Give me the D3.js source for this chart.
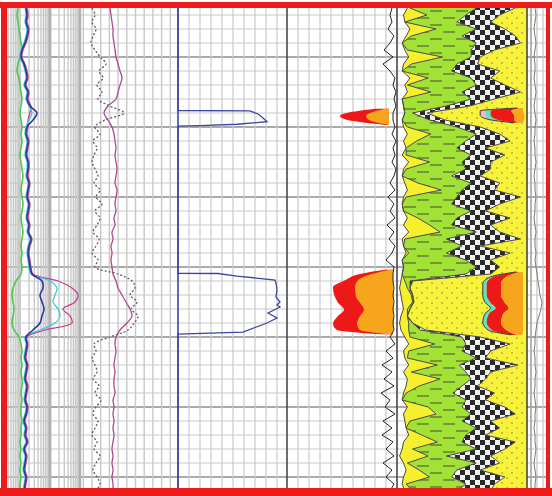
<!DOCTYPE html>
<html><head><meta charset="utf-8">
<script src="https://cdn.jsdelivr.net/npm/d3@7"></script>
<style>html,body{margin:0;padding:0;background:#fff;}svg{display:block;}</style>
</head><body>
<svg id="log" width="552" height="496"></svg>
<script>
// ---- depth sampling (m) ----
const depthTop = 2403, depthBase = 2403 + 480 / 7;
const depths = d3.range(2403, 2473); // one sample per metre

// ---- track 1 curves ----
const curveGreen = [11,10,11,12,13,14,15,13,11,10, 12,13,14,15,14,13,14,15,14,15, 14,13,14,15,16,15,14,15,16,15, 14,15,16,15,14,15,14,15,14,9, 6,5,6,7,6,5,7,12,14,15, 14,15,14,15,15,14,15,14,14,15, 14,14,13,14,13,14,13,14,13,13];
const curveDeep = [19,20,19,21,20,18,15,14,17,19, 20,18,21,20,23,30,26,20,19,21, 20,19,21,21,20,22,21,20,22,21, 20,22,21,24,22,21,22,23,25,35, 36,33,35,37,35,33,26,19,20,19, 18,20,19,18,20,19,18,20,19,17, 19,18,20,17,19,18,17,19,18,17];
const curveMedium = [18,19,18,20,19,17,14,13,16,18, 19,17,20,19,22,25,22,19,18,20, 19,18,20,20,19,21,20,19,21,20, 19,21,20,23,21,20,21,22,24,43, 50,48,46,51,53,48,33,18,19,18, 17,19,18,17,19,18,17,19,18,16, 18,17,19,16,18,17,16,18,17,16];
const curveShallow = [20,21,20,22,21,19,16,15,18,20, 21,19,22,21,24,23,21,21,20,22, 21,20,22,22,21,23,22,21,23,22, 21,23,22,25,23,22,23,24,26,51, 65,71,68,56,63,65,38,20,21,20, 19,21,20,19,21,20,19,21,20,18, 20,19,21,18,20,19,18,20,19,18];
const curveDotted = [85,88,85,89,86,84,88,93,99,92, 96,90,95,91,103,117,98,88,93,86, 90,87,85,88,91,87,93,89,95,88, 93,90,86,92,89,85,91,88,111,125, 128,123,130,124,131,127,121,103,87,89, 85,88,90,86,92,88,94,89,86,91, 88,85,90,87,93,89,86,90,93,89];
const curveSonic = [103,104,105,106,106,107,108,109,111,113, 115,113,111,109,101,97,101,105,107,108, 109,108,109,110,109,108,110,109,108,109, 107,108,105,106,104,105,104,105,106,109, 111,115,119,123,125,120,113,109,108,109, 108,107,108,107,107,108,106,107,106,107, 106,107,106,105,106,105,106,105,106,106];

// ---- track 2 step curve ----
const caliDepth = [2403, 2417.64, 2417.69, 2418.14, 2418.71, 2419.24, 2419.61, 2419.81, 2419.86, 2440.89, 2440.93, 2441.29, 2441.86, 2442.29, 2443.29, 2444.29, 2445.0, 2445.43, 2445.71, 2446.57, 2447.29, 2448.0, 2449.29, 2449.6, 2472];
const caliValue = [0, 0, 72, 80, 85, 89, 59, 22, 0, 0, 40, 59, 97, 98, 99, 98, 102, 99, 102, 90, 99, 89, 65, 0, 0];

// ---- track 3: separation fill and black curve ----
const sepDepth = [2417.4, 2417.9, 2418.4, 2418.9, 2419.3, 2419.7, null, 2440.4, 2441.0, 2441.9, 2442.9, 2444.3, 2445.1, 2446.1, 2447.0, 2448.1, 2449.0, 2449.6];
const sepOuter = [88, 63, 53, 58, 73, 98, null, 98, 73, 58, 46, 48, 51, 57, 51, 46, 50, 93];
const sepInner = [98, 85, 79, 81, 88, 101, null, 103, 85, 71, 68, 69, 73, 77, 73, 70, 73, 101];
const sepBase = [102, 102, 102, 102, 102, 102, null, 106, 106, 106, 106, 106, 106, 106, 106, 106, 106, 106];
const curveBlack = [105,103,105,101,107,103,97,106,96,103, 108,106,109,107,109,106,106,108,105,109, 106,108,105,109,107,103,108,101,107,103, 108,100,107,102,108,105,99,107,106,106, 107,106,107,106,107,106,107,103,108,99, 106,95,105,97,107,94,103,98,108,96, 105,95,106,99,107,96,105,99,107,103];

// ---- track 4: cumulative lithology edges (% of track) ----
const edgeVoid = [8,5,6,10,7,4,6,9,5,4, 10,6,8,4,5,6,4,5,8,5, 7,4,9,5,4,6,8,5,4,5, 8,5,9,4,5,7,4,5,4,3, 2,3,4,5,3,2,3,6,9,5, 6,9,5,8,7,5,4,8,5,6, 7,9,5,4,2,5,7,5,4,6];
const edgeSilt = [10,23,6,30,11,4,8,35,11,4, 24,8,26,4,5,6,4,8,26,15, 7,7,25,7,4,16,34,7,4,5, 16,25,33,6,5,9,4,5,4,6, 8,11,12,8,8,9,9,10,29,9, 8,31,11,33,17,7,4,24,30,10, 7,19,31,12,24,8,17,25,7,12];
const edgeShale = [61,53,46,61,50,61,57,57,46,42, 57,61,50,57,38,12,25,46,61,53, 46,57,50,53,42,57,50,46,42,57, 46,42,61,38,50,38,53,61,53,10, 10,12,13,10,8,12,18,50,53,50, 61,48,53,57,50,43,53,50,57,50, 61,53,50,61,38,61,46,42,53,46];
const edgeCoal = [91,79,72,83,91,95,75,64,62,79, 72,83,95,75,56,23,37,64,79,87, 68,83,72,72,64,79,75,95,79,68, 87,72,79,95,64,87,72,79,72,12, 10,12,13,10,8,12,22,64,87,72, 68,93,72,68,62,75,68,83,91,72, 79,68,91,83,72,79,64,83,75,72];

// ---- track 4: fluid fill zones (% of track) ----
const hcDepth = [2417.3, 2417.7, 2418.3, 2418.9, 2419.4, null, 2440.7, 2441.4, 2442.4, 2444.0, 2445.1, 2445.9, 2446.6, 2447.9, 2449.0, 2449.7];
const hcStart = [92, 64, 64, 70, 90, null, 92, 72, 66, 66, 68, 72, 68, 66, 70, 88];
const hcPink = [92, 68, 68, 72, 90, null, 92, 72, 66, 66, 68, 72, 68, 66, 70, 88];
const hcCyan = [92, 72, 72, 76, 91, null, 92, 74, 69, 69, 72, 76, 71, 69, 73, 88];
const hcRed = [95, 88, 90, 90, 93, null, 94, 84, 80, 80, 83, 86, 82, 80, 84, 92];
const hcOrange = [97, 97, 98, 98, 96, null, 96, 97, 97, 97, 97, 97, 97, 97, 97, 96];

// ---- track 5 curve ----
const curveTension = [7,8,7,6,7,8,7,6,7,7, 6,7,8,7,6,7,8,7,7,6, 7,7,8,7,6,7,7,8,7,7, 6,7,8,7,7,8,7,8,9,10, 11,12,14,13,11,9,8,7,7,6, 7,7,8,7,7,6,7,8,7,7, 6,7,7,8,7,6,7,8,7,7];

// ---- scales ----
const y = d3.scaleLinear().domain([depthTop, depthBase]).range([8, 488]);
const x1 = d3.scaleLinear().domain([0, 171]).range([7, 178]);
const x2 = d3.scaleLinear().domain([0, 110]).range([178, 288]);
const x3 = d3.scaleLinear().domain([0, 110]).range([287, 397]);
const x4 = d3.scaleLinear().domain([0, 100]).range([397, 527]);
const x5 = d3.scaleLinear().domain([0, 18]).range([528, 546]);

const svg = d3.select('#log');
const defs = svg.append('defs');

// lithology patterns
const chk = defs.append('pattern').attr('id', 'chk').attr('width', 10).attr('height', 10).attr('patternUnits', 'userSpaceOnUse');
chk.append('rect').attr('width', 10).attr('height', 10).attr('fill', '#f2f2f2');
chk.append('rect').attr('width', 5).attr('height', 5).attr('fill', '#2a2a2a');
chk.append('rect').attr('x', 5).attr('y', 5).attr('width', 5).attr('height', 5).attr('fill', '#2a2a2a');

const sand = defs.append('pattern').attr('id', 'sand').attr('width', 10).attr('height', 10).attr('patternUnits', 'userSpaceOnUse');
sand.append('rect').attr('width', 10).attr('height', 10).attr('fill', '#f8f23a');
sand.append('circle').attr('cx', 2).attr('cy', 3).attr('r', 0.7).attr('fill', '#6b6b40');
sand.append('circle').attr('cx', 7).attr('cy', 8).attr('r', 0.7).attr('fill', '#6b6b40');

const shale = defs.append('pattern').attr('id', 'shale').attr('width', 26).attr('height', 14).attr('patternUnits', 'userSpaceOnUse');
shale.append('rect').attr('width', 26).attr('height', 14).attr('fill', '#a2e234');
shale.append('line').attr('x1', 1).attr('x2', 13).attr('y1', 4).attr('y2', 4).attr('stroke', '#4d5a3a').attr('stroke-width', 1.1);
shale.append('line').attr('x1', 14).attr('x2', 26).attr('y1', 11).attr('y2', 11).attr('stroke', '#4d5a3a').attr('stroke-width', 1.1);

defs.append('clipPath').attr('id', 'plot').append('rect')
  .attr('x', 7).attr('y', 8).attr('width', 539).attr('height', 480);

const g = svg.append('g').attr('clip-path', 'url(#plot)');

// ---- grid ----
const hTicks = d3.range(2404, 2472, 2);
g.append('g').selectAll('line').data(hTicks).join('line')
  .attr('x1', 7).attr('x2', 546)
  .attr('y1', d => y(d)).attr('y2', d => y(d))
  .attr('stroke', d => d % 10 === 0 ? '#a9a9a9' : '#c9c9c9')
  .attr('stroke-width', d => d % 10 === 0 ? 2.2 : 1.2);

// track 1: logarithmic cycles followed by a linear section
const t1Ticks = [];
[-17, 13, 43].forEach(s => d3.range(1, 11).forEach(k => t1Ticks.push(s + 30 * Math.log10(k))));
d3.range(0, 11).forEach(k => t1Ticks.push(76.3 + 8.7 * k));
const t1Major = [43, 73];
g.append('g').selectAll('line').data(t1Ticks.filter(v => v > 0 && v < 171)).join('line')
  .attr('x1', d => x1(d)).attr('x2', d => x1(d)).attr('y1', 8).attr('y2', 488)
  .attr('stroke', d => t1Major.some(m => Math.abs(m - d) < 0.01) ? '#b0b0b0' : '#c8c8c8')
  .attr('stroke-width', d => t1Major.some(m => Math.abs(m - d) < 0.01) ? 2.4 : 1.4);

const linTicks = d3.range(11, 110, 11);
g.append('g').selectAll('line').data(linTicks).join('line')
  .attr('x1', d => x2(d)).attr('x2', d => x2(d)).attr('y1', 8).attr('y2', 488)
  .attr('stroke', '#c9c9c9').attr('stroke-width', 1.2);
g.append('g').selectAll('line').data(linTicks).join('line')
  .attr('x1', d => x3(d)).attr('x2', d => x3(d)).attr('y1', 8).attr('y2', 488)
  .attr('stroke', '#c9c9c9').attr('stroke-width', 1.2);
g.append('g').selectAll('line').data([3, 9, 15]).join('line')
  .attr('x1', d => x5(d)).attr('x2', d => x5(d)).attr('y1', 8).attr('y2', 488)
  .attr('stroke', '#c4c4c4').attr('stroke-width', 1.2);

// ---- track 4: lithology column ----
const lith = depths.map((d, i) => ({ depth: d, v: edgeVoid[i], s: edgeSilt[i], sh: edgeShale[i], c: edgeCoal[i] }));
const band = (a, b, fill) => g.append('path').datum(lith)
  .attr('d', d3.area().y(d => y(d.depth)).x0(d => x4(a(d))).x1(d => x4(b(d))))
  .attr('fill', fill);
band(d => d.v, d => d.s, '#f6ef2e');
band(d => d.s, d => d.sh, 'url(#shale)');
band(d => d.sh, d => d.c, 'url(#chk)');
band(d => d.c, () => 100, 'url(#sand)');
[d => d.v, d => d.s, d => d.sh, d => d.c].forEach(f => {
  g.append('path').datum(lith)
    .attr('d', d3.line().y(d => y(d.depth)).x(d => x4(f(d))))
    .attr('fill', 'none').attr('stroke', '#4a4a4a').attr('stroke-width', 1);
});

// fluid fills on top of the sand
const hc = hcDepth.map((d, i) => ({ depth: d, a: hcStart[i], p: hcPink[i], c: hcCyan[i], r: hcRed[i], o: hcOrange[i] }));
const hcBand = (a, b, fill) => g.append('path').datum(hc)
  .attr('d', d3.area().defined(d => d.depth !== null).curve(d3.curveMonotoneY)
    .y(d => y(d.depth)).x0(d => x4(a(d))).x1(d => x4(b(d))))
  .attr('fill', fill);
hcBand(d => d.a, d => d.p, '#f2b6d6');
hcBand(d => d.p, d => d.c, '#5fe3c8');
hcBand(d => d.c, d => d.r, '#ee1818');
hcBand(d => d.r, d => d.o, '#f7a51c');
g.append('path').datum(hc)
  .attr('d', d3.line().defined(d => d.depth !== null).curve(d3.curveMonotoneY).y(d => y(d.depth)).x(d => x4(d.a)))
  .attr('fill', 'none').attr('stroke', '#3a3a3a').attr('stroke-width', 1);

// ---- track 3: separation fill ----
const sep = sepDepth.map((d, i) => ({ depth: d, o: sepOuter[i], n: sepInner[i], b: sepBase[i] }));
const sepBand = (a, fill) => g.append('path').datum(sep)
  .attr('d', d3.area().defined(d => d.depth !== null).curve(d3.curveMonotoneY)
    .y(d => y(d.depth)).x0(d => x3(a(d))).x1(d => x3(d.b)))
  .attr('fill', fill);
sepBand(d => d.o, '#ee1818');
sepBand(d => d.n, '#f7a51c');

g.append('path').datum(depths)
  .attr('d', d3.line().y(d => y(d)).x((d, i) => x3(curveBlack[i])))
  .attr('fill', 'none').attr('stroke', '#222').attr('stroke-width', 1);

// ---- track 2 step curve ----
g.append('path').datum(caliDepth)
  .attr('d', d3.line().y(d => y(d)).x((d, i) => x2(caliValue[i])))
  .attr('fill', 'none').attr('stroke', '#3c46a0').attr('stroke-width', 1.3);

// ---- track 1 curves ----
const t1Line = (vals, color, w, dash) => g.append('path').datum(depths)
  .attr('d', d3.line().curve(d3.curveCatmullRom).y(d => y(d)).x((d, i) => x1(vals[i])))
  .attr('fill', 'none').attr('stroke', color).attr('stroke-width', w)
  .attr('stroke-dasharray', dash || null);
t1Line(curveGreen, '#4ec84e', 1.6);
t1Line(curveShallow, '#c4408e', 1.3);
t1Line(curveMedium, '#36d0d6', 1.3);
t1Line(curveDeep, '#28389c', 1.6);
t1Line(curveDotted, '#5a5a6a', 1.3, '2,2');
t1Line(curveSonic, '#b0488c', 1.3);

// ---- track 5 curve ----
g.append('path').datum(depths)
  .attr('d', d3.line().y(d => y(d)).x((d, i) => x5(curveTension[i])))
  .attr('fill', 'none').attr('stroke', '#7a7a7a').attr('stroke-width', 1);

// ---- track dividers ----
svg.append('g').selectAll('line').data([x2(0), x3(0), x4(0), x4(100), x5(3)]).join('line')
  .attr('x1', d => d).attr('x2', d => d).attr('y1', 8).attr('y2', 488)
  .attr('stroke', (d, i) => i === 0 ? '#3c46a0' : (i === 4 ? '#9a9a9a' : '#474747'))
  .attr('stroke-width', (d, i) => i === 4 ? 1.2 : 1.6);

// ---- frame ----
const frame = svg.append('g').attr('fill', '#ef1a1a');
frame.append('rect').attr('x', 0).attr('y', 2).attr('width', 552).attr('height', 6);
frame.append('rect').attr('x', 0).attr('y', 488).attr('width', 552).attr('height', 8);
frame.append('rect').attr('x', 1).attr('y', 2).attr('width', 6).attr('height', 494);
frame.append('rect').attr('x', 546).attr('y', 2).attr('width', 4).attr('height', 494);
</script>
</body></html>
